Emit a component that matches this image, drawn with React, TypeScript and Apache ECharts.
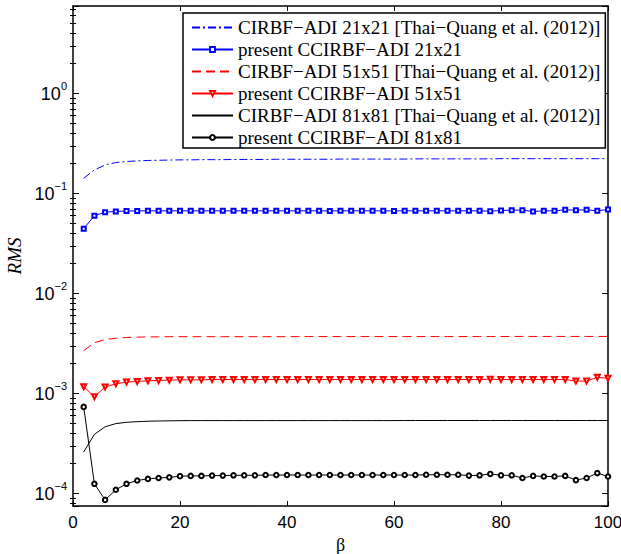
import React, { useEffect, useRef } from "react";
import * as echarts from "echarts";

const beta = [2, 4, 6, 8, 10, 12, 14, 16, 18, 20, 22, 24, 26, 28, 30, 32, 34, 36, 38, 40, 42, 44, 46, 48, 50, 52, 54, 56, 58, 60, 62, 64, 66, 68, 70, 72, 74, 76, 78, 80, 82, 84, 86, 88, 90, 92, 94, 96, 98, 100];

const cirbf21 = [
  0.142, 0.172, 0.193, 0.204, 0.209, 0.212, 0.214, 0.215, 0.216, 0.217,
  0.217, 0.218, 0.218, 0.218, 0.219, 0.219, 0.219, 0.219, 0.22, 0.22,
  0.22, 0.22, 0.22, 0.22, 0.221, 0.221, 0.221, 0.221, 0.221, 0.221,
  0.221, 0.222, 0.222, 0.222, 0.222, 0.222, 0.222, 0.222, 0.222, 0.223,
  0.223, 0.223, 0.223, 0.223, 0.223, 0.223, 0.223, 0.223, 0.223, 0.223,
];

const present21 = [
  0.0445, 0.06, 0.065, 0.0662, 0.0668, 0.067, 0.0671, 0.0671, 0.0671, 0.0671,
  0.0671, 0.0671, 0.0671, 0.0671, 0.0671, 0.0671, 0.0671, 0.0671, 0.0671, 0.0671,
  0.0671, 0.0672, 0.0671, 0.067, 0.0671, 0.0671, 0.0672, 0.0671, 0.0671, 0.067,
  0.0671, 0.0671, 0.0671, 0.0671, 0.0671, 0.0671, 0.0671, 0.0671, 0.0666, 0.0676,
  0.0682, 0.0682, 0.0661, 0.0671, 0.0671, 0.0687, 0.0682, 0.0687, 0.0671, 0.0692,
];

const cirbf51 = [
  0.00268, 0.00322, 0.00346, 0.00357, 0.00363, 0.00366, 0.00368, 0.00369, 0.0037, 0.0037,
  0.0037, 0.0037, 0.0037, 0.0037, 0.0037, 0.0037, 0.0037, 0.0037, 0.0037, 0.0037,
  0.00371, 0.00371, 0.00371, 0.00371, 0.00371, 0.00371, 0.00371, 0.00371, 0.00371, 0.00371,
  0.00371, 0.00371, 0.00371, 0.00371, 0.00371, 0.00371, 0.00371, 0.00371, 0.00371, 0.00371,
  0.00372, 0.00372, 0.00372, 0.00372, 0.00372, 0.00372, 0.00372, 0.00372, 0.00372, 0.00372,
];

const present51 = [
  0.00117, 0.00093, 0.00116, 0.00125, 0.0013, 0.00132, 0.00134, 0.00135, 0.00136, 0.00137,
  0.00137, 0.00137, 0.00138, 0.00138, 0.00138, 0.00138, 0.00138, 0.00138, 0.00138, 0.00138,
  0.00138, 0.00138, 0.00138, 0.00138, 0.00138, 0.00138, 0.00138, 0.00138, 0.00138, 0.00138,
  0.00138, 0.00138, 0.00138, 0.00138, 0.00138, 0.00138, 0.00138, 0.00138, 0.00139, 0.00138,
  0.00138, 0.00138, 0.00138, 0.00138, 0.00138, 0.00138, 0.00133, 0.00133, 0.00145, 0.00142,
];

const cirbf81 = [
  0.00026, 0.00039, 0.000465, 0.0005, 0.000515, 0.000523, 0.000528, 0.000531, 0.000533, 0.000535,
  0.000536, 0.000536, 0.000536, 0.000536, 0.000536, 0.000536, 0.000536, 0.000536, 0.000536, 0.000536,
  0.000536, 0.000536, 0.000536, 0.000536, 0.000536, 0.000536, 0.000536, 0.000536, 0.000536, 0.000536,
  0.000537, 0.000537, 0.000537, 0.000537, 0.000537, 0.000537, 0.000537, 0.000537, 0.000537, 0.000537,
  0.000537, 0.000537, 0.000537, 0.000537, 0.000537, 0.000537, 0.000537, 0.000537, 0.000537, 0.000537,
];

const present81 = [
  0.000735, 0.000125, 0.0000863, 0.000109, 0.000125, 0.000135, 0.00014, 0.000143, 0.000145, 0.000149,
  0.00015, 0.00015, 0.000151, 0.000151, 0.000152, 0.000152, 0.000152, 0.000153, 0.000153, 0.000153,
  0.000153, 0.000153, 0.000153, 0.000153, 0.000153, 0.000153, 0.000153, 0.000153, 0.000153, 0.000153,
  0.000153, 0.000153, 0.000154, 0.000154, 0.000154, 0.000154, 0.000151, 0.000152, 0.000157, 0.000152,
  0.000152, 0.000143, 0.00015, 0.000148, 0.000148, 0.00015, 0.000136, 0.000143, 0.00016, 0.000148,
];

const names = [
  "CIRBF\u2212ADI 21x21 [Thai\u2212Quang et al. (2012)]",
  "present CCIRBF\u2212ADI 21x21",
  "CIRBF\u2212ADI 51x51 [Thai\u2212Quang et al. (2012)]",
  "present CCIRBF\u2212ADI 51x51",
  "CIRBF\u2212ADI 81x81 [Thai\u2212Quang et al. (2012)]",
  "present CCIRBF\u2212ADI 81x81",
];

const xTicks = [0, 20, 40, 60, 80, 100];
const yMin = 7.5e-5;
const yMax = 7.5;

export default function App() {
  const ref = useRef<HTMLDivElement>(null);
  useEffect(() => {
    if (!ref.current) return;
    const chart = echarts.init(ref.current, null, { renderer: "svg" });
    const lMin = Math.log10(yMin);
    const lMax = Math.log10(yMax);
    const minor: number[] = [];
    for (let n = -5; n <= 0; n++) {
      for (let k = 2; k <= 9; k++) {
        const v = Math.log10(k) + n;
        if (v > lMin && v < lMax) minor.push(v);
      }
    }
    const pair = (arr: number[]) => beta.map((b, i) => [b, arr[i]]);
    const axisLine = { show: true, onZero: false, lineStyle: { color: "#000", width: 1.5 } };
    const fmt = (v: number) => {
      const l = Math.log10(v);
      const n = Math.round(l);
      if (Math.abs(l - n) > 1e-6) return "";
      return `{b|10}{s|${n < 0 ? "\u2212" : ""}${Math.abs(n)}}`;
    };
    const noSym = { opacity: 0 };
    chart.setOption({
      animation: false,
      backgroundColor: "#fff",
      grid: {
        left: 73,
        right: 13,
        top: 6,
        bottom: 48,
        containLabel: false,
        outerBoundsMode: "none",
      },
      legend: {
        data: [
          { name: names[0], itemStyle: noSym },
          { name: names[1] },
          { name: names[2], itemStyle: noSym },
          { name: names[3] },
          { name: names[4], itemStyle: noSym },
          { name: names[5] },
        ],
        orient: "vertical",
        left: 183,
        top: 13,
        padding: [5, 5, 1, 8],
        itemGap: 3,
        itemWidth: 41,
        itemHeight: 6,
        backgroundColor: "#fff",
        borderColor: "#000",
        borderWidth: 1.5,
        borderRadius: 0,
        selectedMode: false,
        textStyle: { fontFamily: "Liberation Serif", fontSize: 19, color: "#000" },
      },
      xAxis: [
        {
          type: "value",
          min: 0,
          max: 100,
          interval: 20,
          position: "bottom",
          axisLine,
          axisTick: { show: true, inside: true, length: 5, lineStyle: { color: "#000", width: 1 } },
          axisLabel: {
            margin: 8,
            fontFamily: "Liberation Sans",
            fontSize: 17,
            color: "#000",
            customValues: xTicks,
          },
          splitLine: { show: false },
          name: "\u03b2",
          nameLocation: "middle",
          nameGap: 15,
          nameTextStyle: { fontFamily: "Liberation Serif", fontSize: 18, color: "#000", lineHeight: 18 },
        },
        {
          type: "value",
          min: 0,
          max: 100,
          interval: 20,
          position: "top",
          axisLine,
          axisTick: { show: true, inside: true, length: 5, lineStyle: { color: "#000", width: 1 } },
          axisLabel: { show: false },
          splitLine: { show: false },
        },
      ],
      yAxis: [
        {
          type: "log",
          logBase: 10,
          min: yMin,
          max: yMax,
          position: "left",
          axisLine,
          axisTick: { show: true, inside: true, length: 6, lineStyle: { color: "#000", width: 1 } },
          axisLabel: {
            margin: 6,
            formatter: fmt,
            fontFamily: "Liberation Sans",
            fontSize: 18,
            color: "#000",
            rich: {
              b: { fontFamily: "Liberation Sans", fontSize: 18, color: "#000", lineHeight: 26 },
              s: { fontFamily: "Liberation Sans", fontSize: 11, color: "#000", lineHeight: 12, verticalAlign: "top" },
            },
          },
          splitLine: { show: false },
          name: "RMS",
          nameLocation: "middle",
          nameGap: 47,
          nameTextStyle: { fontFamily: "Liberation Serif", fontStyle: "italic", fontSize: 19, color: "#000" },
        },
        {
          type: "log",
          logBase: 10,
          min: yMin,
          max: yMax,
          position: "right",
          axisLine,
          axisTick: { show: true, inside: true, length: 6, lineStyle: { color: "#000", width: 1 } },
          axisLabel: { show: false },
          splitLine: { show: false },
        },
        {
          type: "value",
          min: lMin,
          max: lMax,
          position: "left",
          axisLine: { show: false },
          axisTick: { show: true, inside: true, length: 3, customValues: minor, lineStyle: { color: "#000", width: 1 } },
          axisLabel: { show: false },
          splitLine: { show: false },
        },
        {
          type: "value",
          min: lMin,
          max: lMax,
          position: "right",
          axisLine: { show: false },
          axisTick: { show: true, inside: true, length: 3, customValues: minor, lineStyle: { color: "#000", width: 1 } },
          axisLabel: { show: false },
          splitLine: { show: false },
        },
      ],
      series: [
        {
          name: names[0],
          type: "line",
          data: pair(cirbf21),
          symbol: "none",
          lineStyle: { color: "#0000ff", width: 1, type: [8, 3, 2, 3] },
          itemStyle: { color: "#0000ff", opacity: 0 },
        },
        {
          name: names[1],
          type: "line",
          data: pair(present21),
          symbol: "emptyRect",
          symbolSize: 4,
          lineStyle: { color: "#0000ff", width: 1 },
          itemStyle: { color: "#0000ff", borderColor: "#0000ff", borderWidth: 1 },
        },
        {
          name: names[2],
          type: "line",
          data: pair(cirbf51),
          symbol: "none",
          lineStyle: { color: "#ff0000", width: 1, type: [9, 5] },
          itemStyle: { color: "#ff0000", opacity: 0 },
        },
        {
          name: names[3],
          type: "line",
          data: pair(present51),
          symbol: "emptyTriangle",
          symbolRotate: 180,
          symbolSize: 5,
          lineStyle: { color: "#ff0000", width: 1 },
          itemStyle: { color: "#ff0000", borderColor: "#ff0000", borderWidth: 1 },
        },
        {
          name: names[4],
          type: "line",
          data: pair(cirbf81),
          symbol: "none",
          lineStyle: { color: "#000000", width: 1 },
          itemStyle: { color: "#000000", opacity: 0 },
        },
        {
          name: names[5],
          type: "line",
          data: pair(present81),
          symbol: "emptyCircle",
          symbolSize: 4.5,
          lineStyle: { color: "#000000", width: 1 },
          itemStyle: { color: "#000000", borderColor: "#000000", borderWidth: 1 },
        },
      ],
    });
    return () => chart.dispose();
  }, []);
  return (
    <div
      ref={ref}
      style={{ position: "absolute", left: 0, top: 0, width: 621, height: 554 }}
    />
  );
}
